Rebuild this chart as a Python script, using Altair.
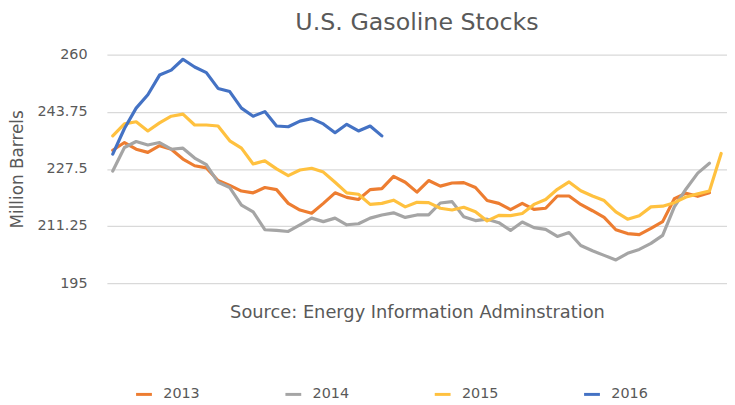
import altair as alt
import pandas as pd

years = ["2013", "2014", "2015", "2016"]
colors = ["#ED7D31", "#A5A5A5", "#FFC13F", "#4472C4"]

stocks_2013 = [232.8, 235.0, 233.1, 232.2, 234.1, 233.1, 230.3, 228.4, 227.8, 224.2,
               222.8, 221.2, 220.7, 222.2, 221.6, 217.7, 215.8, 214.9, 217.7, 220.7,
               219.4, 218.8, 221.6, 221.9, 225.4, 223.7, 220.9, 224.2, 222.6, 223.5,
               223.6, 222.2, 218.5, 217.7, 215.9, 217.7, 216.0, 216.3, 219.8, 219.8,
               217.4, 215.6, 213.7, 210.2, 209.1, 208.8, 210.6, 212.5, 219.0, 220.6,
               219.7, 220.7]

stocks_2014 = [226.9, 233.6, 235.3, 234.3, 235.0, 233.1, 233.4, 230.6, 228.7, 223.7,
               222.2, 217.2, 215.3, 210.2, 210.0, 209.7, 211.6, 213.5, 212.5, 213.5,
               211.6, 211.9, 213.5, 214.4, 215.0, 213.7, 214.4, 214.4, 217.8, 218.2,
               213.9, 212.8, 213.2, 212.2, 210.0, 212.4, 210.8, 210.3, 208.3, 209.4,
               205.7, 204.2, 202.9, 201.6, 203.5, 204.6, 206.3, 208.6, 216.7, 221.8,
               226.3, 229.1]

stocks_2015 = [236.9, 240.3, 240.9, 238.3, 240.6, 242.5, 243.1, 240.0, 240.0, 239.7,
               235.5, 233.4, 228.9, 229.8, 227.5, 225.6, 227.2, 227.7, 226.6, 223.7,
               220.7, 220.3, 217.4, 217.7, 218.6, 216.7, 218.0, 217.9, 216.3, 215.8,
               216.6, 215.3, 212.7, 214.3, 214.2, 214.8, 217.4, 218.8, 221.7, 223.8,
               221.3, 219.8, 218.5, 215.3, 213.2, 214.2, 216.7, 216.9, 217.9, 219.5,
               220.4, 221.2, 231.9]

stocks_2016 = [231.7, 239.0, 244.8, 248.6, 254.2, 255.6, 258.7, 256.5, 254.9, 250.4,
               249.5, 244.8, 242.5, 243.8, 239.7, 239.5, 241.1, 241.8, 240.3, 237.8,
               240.2, 238.3, 239.7, 236.9]

y_ticks = [195, 211.25, 227.5, 243.75, 260]

rows = []
for yr, vals in zip(years, [stocks_2013, stocks_2014, stocks_2015, stocks_2016]):
    for i, v in enumerate(vals):
        rows.append({"week": i, "year": yr, "stocks": v})
df = pd.DataFrame(rows)

FONT = "DejaVu Sans"
TXT = "#595959"

chart = alt.Chart(df).mark_line(strokeWidth=3.2, strokeJoin="round", strokeCap="round").encode(
    x=alt.X(
        "week:Q",
        scale=alt.Scale(domain=[-0.5, 52.5], nice=False, zero=False),
        axis=alt.Axis(
            title="Source: Energy Information Adminstration",
            labels=False, ticks=False, tickSize=0, domain=False, grid=False,
            titleFont=FONT, titleFontSize=18, titleFontWeight="normal",
            titleColor=TXT, titlePadding=21,
        ),
    ),
    y=alt.Y(
        "stocks:Q",
        scale=alt.Scale(domain=[195, 260], nice=False, zero=False),
        axis=alt.Axis(
            values=y_ticks, labelExpr="datum.value + ''",
            title="Million Barrels", titleFont=FONT, titleFontSize=17,
            titleFontWeight="normal", titleColor=TXT,
            titleX=-85, titleBaseline="alphabetic",
            labelFont=FONT, labelFontSize=14.5, labelColor=TXT, labelPadding=20,
            domain=False, ticks=False, tickSize=0,
            grid=True, gridColor="#D9D9D9", gridWidth=1.3,
        ),
    ),
    color=alt.Color(
        "year:N",
        scale=alt.Scale(domain=years, range=colors),
        legend=alt.Legend(
            title=None, orient="none", legendX=28, legendY=334,
            direction="horizontal", columns=4, columnPadding=80,
            symbolType="stroke", symbolStrokeWidth=3, symbolSize=256,
            labelFont=FONT, labelFontSize=14.5, labelColor=TXT, labelOffset=10,
            padding=0,
        ),
    ),
).properties(
    width=627,
    height=231,
    title=alt.TitleParams(
        "U.S. Gasoline Stocks", font=FONT, fontSize=24, fontWeight="normal",
        color=TXT, anchor="middle", offset=12,
    ),
    padding={"left": 100, "top": 45, "right": 0, "bottom": 120},
    autosize=alt.AutoSizeParams(type="none"),
).configure_view(strokeWidth=0)

chart.save("out.html", embed_options={"renderer": "svg", "actions": False})
